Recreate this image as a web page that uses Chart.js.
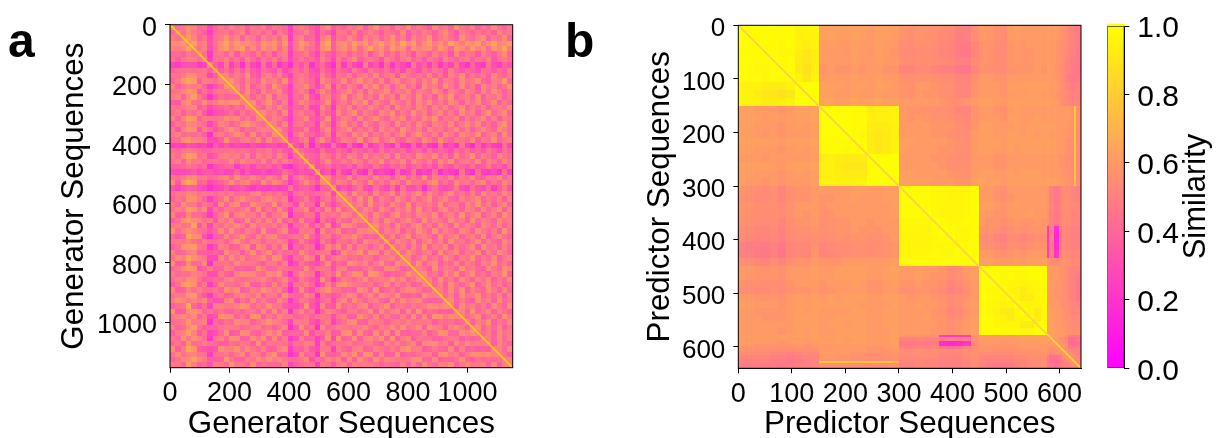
<!DOCTYPE html>
<html><head><meta charset="utf-8">
<script src="https://cdn.jsdelivr.net/npm/chart.js@4"></script>
<style>html,body{margin:0;padding:0;background:#fff;width:1217px;height:438px;overflow:hidden}canvas{position:absolute;top:0}</style>
</head><body>
<canvas id="a" style="left:0px" width="535" height="438"></canvas>
<canvas id="b" style="left:535px" width="555" height="438"></canvas>
<canvas id="c" style="left:1090px" width="127" height="438"></canvas>
<script>
const generatorEdges=[0,18,36,54,72,90,108,126,144,162,180,198,216,234,252,270,288,306,324,342,360,378,396,414,432,450,468,486,504,522,540,558,576,594,612,630,648,666,684,702,720,738,756,774,792,810,828,846,864,882,900,918,936,954,972,990,1008,1026,1044,1062,1080,1098,1116,1134,1152];
const generatorTicks=[0,200,400,600,800,1000];
const generatorDiagonal=[0,1152];
// upper triangle of the symmetric similarity matrix, in percent
const generatorUpper=[
[50,42,48,54,50,40,44,28,38,46,40,52,44,48,36,46,42,50,36,46,44,40,24,44,48,44,36,30,46,54,34,42,38,48,44,52,36,46,58,42,46,36,50,44,56,40,48,42,34,52,44,48,38,58,46,42,50,36,46,40,54,44,38,48],
[50,44,56,48,42,36,24,42,44,48,38,46,52,34,44,48,38,46,32,50,42,26,40,42,50,38,28,44,36,26,48,46,38,52,36,44,50,42,34,48,44,38,54,34,46,40,50,44,36,48,56,42,34,50,44,38,48,40,46,36,54,44,46],
[50,60,52,38,46,30,44,48,58,44,52,38,50,46,36,52,44,50,40,56,24,46,52,38,40,28,48,58,32,46,42,54,46,36,56,44,50,38,46,58,40,50,36,54,44,48,60,38,46,52,44,36,56,46,42,50,58,38,48,44,54,38],
[50,62,46,52,32,44,56,64,50,60,54,58,50,46,62,54,58,44,60,30,48,62,54,46,30,56,66,36,54,58,48,62,54,60,46,56,66,50,58,48,66,54,60,44,56,62,50,58,46,66,56,48,60,54,62,46,58,66,50,56,60],
[50,44,50,30,42,54,60,48,56,62,44,54,42,58,50,56,40,52,28,46,58,46,42,34,54,60,36,50,56,46,58,42,54,64,50,56,44,60,52,56,40,58,50,54,56,44,60,52,40,58,54,46,60,50,56,42,58,52,64,48],
[50,42,22,44,46,38,50,34,46,42,36,50,38,46,32,44,50,24,42,42,48,36,26,46,38,30,44,48,36,46,42,50,34,44,54,38,46,36,50,42,32,48,44,36,50,42,46,32,54,38,46,44,34,50,42,36,46,54,38],
[50,26,46,44,50,38,46,36,54,42,34,48,42,52,36,46,28,38,46,38,42,32,50,42,26,48,38,46,54,36,44,48,42,32,50,44,36,46,54,38,44,34,48,42,34,54,44,38,46,50,36,46,42,50,34,44,48,42],
[50,36,26,48,24,38,20,44,28,22,46,26,42,20,30,18,40,30,44,20,34,42,28,18,46,24,40,28,22,50,26,34,20,44,22,36,28,20,48,30,38,24,42,22,36,26,46,28,20,40,26,22,44,30,24,38,32],
[50,36,44,32,46,34,48,36,30,44,38,32,46,28,36,42,36,46,30,28,44,34,26,42,36,30,46,38,32,48,40,36,44,32,40,28,46,38,30,44,36,46,40,30,50,38,32,44,38,30,46,40,34,44,36,50],
[50,52,40,48,44,56,38,32,46,52,40,50,36,26,42,48,42,34,30,50,38,28,46,42,54,36,46,50,40,56,38,46,50,34,54,44,38,48,40,54,38,46,32,50,44,58,36,46,40,50,36,56,44,38,48],
[50,58,46,38,52,44,36,56,46,50,40,58,32,44,50,44,38,26,54,46,36,42,56,38,48,58,44,50,40,54,36,48,56,40,46,52,38,50,44,58,36,50,46,38,54,44,48,56,40,36,50,46,60,40],
[50,50,40,56,36,44,50,38,58,46,40,24,46,46,54,40,28,42,56,26,48,38,50,44,34,54,46,58,40,50,36,46,56,40,48,34,54,44,50,38,58,46,36,54,40,48,34,56,44,50,38,46,58],
[50,40,58,44,34,54,44,48,56,38,28,42,50,42,24,40,58,44,30,40,48,56,40,50,36,54,44,46,58,38,48,44,54,36,50,46,40,56,48,34,50,44,38,54,46,36,54,40,58,48,38,46],
[50,50,38,48,40,56,36,50,46,26,44,40,54,32,24,46,50,34,44,56,36,46,54,40,48,38,58,44,50,34,54,46,38,56,40,48,36,54,44,58,38,46,50,40,56,36,48,44,54,38,46],
[50,54,38,48,58,44,36,50,24,42,54,46,38,34,44,56,28,42,48,38,54,46,58,36,50,44,38,56,46,40,50,36,54,44,58,40,48,38,54,46,36,50,44,54,38,46,56,36,48,40],
[50,44,38,50,40,56,44,30,38,36,48,28,26,54,42,22,50,44,56,36,48,40,54,46,38,50,34,58,44,48,38,54,46,36,50,44,56,40,46,58,38,48,40,54,36,46,50,44,56],
[50,54,44,48,38,56,26,44,50,40,40,26,48,38,28,54,40,48,58,38,50,44,36,54,46,56,38,48,40,58,44,50,36,46,54,40,48,38,56,44,50,36,46,58,40,48,54,38],
[50,40,50,46,36,24,42,44,54,36,30,40,56,26,40,50,46,36,54,40,48,58,44,38,50,46,56,36,48,40,54,46,58,38,48,44,54,36,50,40,46,56,38,50,36,48,44],
[50,48,38,54,28,46,48,38,40,24,52,44,24,46,56,40,48,36,54,44,38,50,46,36,56,40,48,38,54,44,36,50,46,40,56,38,48,58,44,54,38,46,36,50,58,40],
[50,56,40,30,36,38,50,32,28,46,54,28,42,48,58,38,46,40,50,36,54,44,48,38,58,46,40,50,36,54,44,48,38,46,56,40,50,36,46,54,44,38,58,48,40],
[50,44,24,44,54,40,38,30,38,50,24,48,44,36,54,46,56,38,48,40,50,38,46,54,36,48,58,44,40,50,36,56,46,38,54,48,44,58,38,46,50,36,56,40],
[50,28,34,44,50,24,44,56,40,26,38,50,46,40,58,36,48,54,38,46,56,40,36,50,44,38,54,48,38,58,44,36,50,46,40,54,36,48,44,56,38,46,50],
[50,30,24,44,18,36,26,22,46,26,20,40,24,18,46,22,30,42,26,20,44,24,20,40,22,36,24,18,42,22,30,20,46,26,18,40,22,34,24,20,44,26],
[50,40,36,32,28,44,34,30,42,36,28,44,38,34,40,30,46,34,40,36,44,30,38,42,32,46,34,40,36,30,44,38,48,34,40,32,46,38,30,44,36],
[50,40,38,34,50,44,36,48,38,54,46,36,56,40,48,44,50,36,58,40,46,38,54,48,44,56,38,48,36,54,40,46,58,38,50,44,36,54,46,40],
[50,36,30,44,54,38,40,48,40,56,46,36,50,44,58,38,48,44,54,36,56,46,40,50,36,54,44,58,38,46,48,40,56,36,50,46,38,54,44],
[50,30,36,42,32,38,34,40,30,44,36,32,46,38,30,40,36,46,32,38,44,34,40,30,46,36,32,44,38,34,44,32,38,48,34,40,30,44],
[50,28,34,18,44,26,20,44,24,18,46,22,28,24,18,44,22,28,46,20,26,22,44,18,28,24,20,46,26,18,44,24,22,28,20,46,24],
[50,54,36,44,40,56,36,48,46,38,54,44,50,34,46,56,38,48,40,58,36,50,46,40,54,38,48,44,56,40,36,50,46,58,38,48],
[50,38,50,46,38,54,44,36,58,40,48,38,54,48,36,56,44,46,40,50,58,38,46,36,54,44,48,40,50,56,36,46,38,54,44],
[50,26,34,28,36,46,30,26,44,34,28,42,24,46,32,30,38,20,36,44,32,28,34,48,30,26,44,34,28,42,24,36,46,32],
[50,50,38,58,44,48,36,54,40,46,56,36,50,40,48,58,38,54,44,36,48,56,40,46,38,50,36,58,44,48,40,54,46],
[50,48,38,54,40,58,36,50,44,38,56,46,36,50,40,48,58,38,46,54,40,36,50,44,48,56,38,46,40,54,36,50],
[50,44,50,36,56,40,48,38,54,46,40,58,36,48,44,50,40,56,38,46,48,36,54,44,58,40,50,36,46,54,38],
[50,40,54,46,38,56,48,36,50,44,54,38,58,40,46,36,50,56,40,48,38,54,46,38,56,40,48,58,36,50],
[50,48,38,54,44,36,50,58,40,46,38,54,48,44,56,36,46,50,40,58,38,48,54,36,44,50,38,56,46],
[50,40,50,36,56,46,38,48,54,44,36,58,40,50,46,38,54,44,48,36,56,40,50,46,38,58,44,48],
[50,54,40,48,36,56,44,38,50,58,40,48,38,54,46,36,56,40,50,44,36,54,48,40,56,38,46],
[50,38,50,44,54,36,48,40,56,46,38,58,40,50,44,36,54,48,38,56,46,40,50,36,58,44],
[50,40,54,36,48,58,38,46,50,44,36,56,40,48,54,38,46,50,40,58,36,46,54,44,38],
[50,38,54,46,40,56,36,48,54,40,50,36,58,44,48,38,46,56,38,50,40,36,54,44],
[50,44,50,36,54,40,58,38,48,44,56,36,50,40,46,54,36,58,44,48,38,50,40],
[50,40,56,48,38,46,50,36,58,40,46,54,38,48,44,56,36,50,40,58,46,38],
[50,50,36,44,54,40,48,38,56,46,36,50,44,58,38,48,40,54,36,46,50],
[50,40,58,38,48,54,36,46,40,56,38,50,44,36,54,46,58,40,48,38],
[50,48,44,36,56,40,50,46,38,58,44,48,40,36,54,46,38,56,50],
[50,54,40,46,36,54,44,58,38,48,56,40,46,36,50,44,58,38],
[50,50,38,58,40,48,36,54,46,38,50,44,56,36,48,40,54],
[50,40,50,36,56,44,38,48,58,36,46,54,40,50,38,44],
[50,48,38,54,40,58,36,50,44,38,56,46,36,54,40],
[50,40,50,36,56,44,48,58,38,46,40,54,36,50],
[50,54,38,48,40,36,56,44,50,38,58,40,48],
[50,36,56,44,50,40,48,36,54,46,38,56],
[50,50,38,58,40,46,54,36,50,44,38],
[50,40,48,56,36,44,50,38,58,46],
[50,38,50,44,58,36,48,40,54],
[50,56,38,48,40,54,36,46],
[50,40,50,36,56,44,48],
[50,48,38,54,40,50],
[50,36,56,44,38],
[50,50,40,54],
[50,44,36],
[50,50],
[50]];

const predictorEdges=[0,15,30,45,60,75,90,105,120,135,150,165,180,195,210,225,240,255,270,285,300,315,330,345,360,375,390,405,420,435,450,463,476,489,502,515,527,540,552,565,577,581,589,594,599,604,610,616,622,627,630,640];
const predictorTicks=[0,100,200,300,400,500,600];
const predictorDiagonal=[0,640];
const predictorUpper=[
[100,99,99,98,99,98,98,95,96,96,62,63,62,62,63,62,60,63,62,62,58,56,58,57,57,55,54,50,50,56,60,60,57,55,60,62,60,60,60,60,62,60,62,60,58,57,55,52,50,50,48],
[100,99,98,99,98,98,94,95,95,62,63,62,61,63,62,60,62,62,60,57,56,58,57,56,54,53,49,50,55,60,59,56,55,60,61,60,60,60,60,62,60,61,60,58,57,55,52,50,50,48],
[100,99,98,97,98,95,93,95,60,62,60,60,62,60,60,62,60,60,55,54,56,56,55,53,52,48,48,53,58,58,56,54,58,60,58,60,60,60,62,60,60,58,57,56,54,52,50,50,48],
[100,98,97,97,93,90,93,60,60,60,59,62,60,59,62,60,58,54,54,55,55,54,52,51,48,47,52,57,58,55,54,58,60,58,58,60,60,62,60,60,58,57,55,54,52,50,50,47],
[100,98,98,92,90,93,60,61,60,60,61,60,60,61,60,60,56,55,56,56,55,54,53,50,50,55,58,58,56,56,59,60,58,59,60,60,62,60,60,58,57,55,52,50,48,48,47],
[100,98,92,88,94,58,60,58,58,60,58,60,60,58,58,52,52,54,54,52,50,50,47,46,52,57,56,55,54,57,58,58,58,60,58,62,60,58,58,56,54,52,50,48,48,46],
[100,95,90,95,60,61,60,60,62,60,60,62,60,60,56,56,57,57,56,55,54,52,52,56,60,60,58,57,60,60,60,60,60,60,62,60,60,58,57,54,50,48,47,47,48],
[100,100,100,63,62,62,60,62,62,60,63,62,60,58,57,60,60,58,56,56,53,53,58,60,60,60,58,62,61,62,62,62,62,63,60,62,60,58,55,52,50,48,48,50],
[100,100,62,62,60,60,62,60,60,62,60,60,58,57,60,58,58,56,55,53,52,57,60,60,60,58,60,61,60,62,62,60,62,60,60,58,57,55,54,52,50,50,50],
[100,64,64,62,62,64,62,62,64,62,62,60,60,60,60,60,58,56,56,58,60,62,62,60,60,62,62,62,62,62,62,64,62,60,60,58,55,53,52,50,52,52],
[100,100,99,99,98,98,93,94,94,95,60,58,58,57,56,56,55,52,52,58,60,60,58,57,60,62,60,60,60,60,62,60,62,60,60,60,60,60,58,78,56],
[100,99,99,98,98,94,94,94,95,60,58,60,58,57,57,56,54,53,58,60,60,60,58,62,62,60,60,62,60,62,60,62,60,60,60,60,60,58,78,56],
[100,99,98,98,93,92,93,94,60,60,60,60,58,58,58,55,54,58,62,62,60,60,60,62,60,62,62,62,62,62,62,60,60,60,60,58,58,78,56],
[100,98,97,92,90,92,94,60,60,60,60,58,58,56,55,55,60,62,62,60,60,62,62,60,62,60,62,62,60,62,60,60,60,60,58,58,78,56],
[100,98,92,90,92,94,62,62,60,60,60,60,58,56,56,60,62,62,62,60,62,62,62,62,62,62,64,62,62,60,60,60,58,56,56,78,55],
[100,93,90,92,95,62,60,60,60,60,58,58,56,56,60,62,62,60,60,62,60,62,62,62,62,64,62,62,60,60,60,58,56,56,78,55],
[100,99,99,99,60,60,60,60,58,58,56,55,55,60,60,60,58,58,60,60,60,60,60,60,62,60,60,60,58,58,56,56,54,78,54],
[100,99,99,60,60,60,60,60,58,56,56,56,60,60,60,58,58,60,60,60,60,60,60,62,60,60,60,58,58,56,56,54,78,54],
[100,100,62,62,60,60,60,60,58,57,57,60,62,62,60,60,62,60,62,62,62,60,62,60,60,60,60,58,58,56,56,78,55],
[100,62,62,62,62,60,60,60,58,58,62,64,62,62,60,62,62,62,62,62,62,64,62,62,62,60,60,58,58,56,72,56],
[100,99,98,98,97,97,96,96,97,98,60,60,58,56,60,60,60,60,60,60,58,50,47,47,50,56,55,54,52,52,50],
[100,98,98,97,97,96,96,97,98,60,60,58,56,58,60,60,60,60,60,58,50,47,47,50,55,55,54,52,52,50],
[100,98,97,96,96,96,97,98,62,62,60,58,60,62,60,60,60,60,58,52,48,48,52,56,55,55,54,54,52],
[100,97,96,96,96,97,98,60,60,58,58,60,60,60,62,60,60,56,50,47,47,50,55,55,55,52,52,52],
[100,98,97,97,98,98,60,58,58,56,58,60,58,58,60,58,56,50,48,48,52,56,54,54,52,52,52],
[100,98,97,97,98,58,58,56,54,56,58,56,58,58,58,24,48,18,18,46,55,52,52,50,50,50],
[100,97,97,98,54,55,52,50,54,54,52,54,56,56,22,50,14,16,44,54,52,52,50,50,50],
[100,98,98,56,56,54,52,56,56,54,56,58,58,24,48,16,18,46,55,52,52,50,50,50],
[100,98,60,60,58,56,58,60,58,60,60,60,24,50,20,22,50,56,54,54,52,52,52],
[100,62,62,60,60,60,62,60,62,62,62,58,56,54,54,56,58,56,56,54,54,54],
[100,99,98,98,99,98,98,99,99,99,62,60,60,60,58,58,55,53,52,52,50],
[100,98,97,98,97,97,98,98,99,62,60,60,60,58,58,55,52,50,50,48],
[100,97,97,96,95,96,97,98,60,60,60,58,58,56,54,52,50,50,47],
[100,96,94,92,95,96,97,60,60,58,58,58,56,54,52,50,50,46],
[100,96,92,92,96,98,60,60,60,58,58,56,55,52,50,50,47],
[100,97,96,96,98,62,60,60,60,58,56,56,54,52,52,50],
[100,96,92,97,62,62,60,60,60,58,56,54,52,52,52],
[100,92,96,62,62,60,60,60,58,56,56,54,54,54],
[100,98,62,62,60,60,60,58,58,56,54,54,54],
[100,62,62,62,60,60,60,58,56,56,56,56],
[62,62,60,60,60,58,56,50,46,48,48],
[60,60,60,56,54,52,44,42,42,46],
[58,58,58,56,54,44,42,42,44],
[58,58,58,56,44,42,42,44],
[58,58,54,48,48,46,48],
[58,58,54,52,50,50],
[58,58,54,52,50],
[58,58,54,52],
[58,56,54],
[56,54],
[54]];

const colorbarTicks=[0,0.2,0.4,0.6,0.8,1];
const colorbarRange=[0,1];
const colorbarCap=[1,1.006];
const FONT='"Liberation Sans", Arial, sans-serif';

function spring(v){return `rgb(255,${Math.round(255*v)},${Math.round(255*(1-v))})`;}

function cells(upper,edges){
  const out=[];
  upper.forEach((row,i)=>row.forEach((p,k)=>{
    const j=i+k;
    const add=(c,r)=>out.push({x:(edges[c]+edges[c+1])/2,y:(edges[r]+edges[r+1])/2,x0:edges[c],x1:edges[c+1],y0:edges[r],y1:edges[r+1],v:p/100});
    add(j,i); if(j!==i) add(i,j);
  }));
  return out;
}

class HeatmapController extends Chart.ScatterController{
  draw(){
    const meta=this.getMeta(),ctx=this.chart.ctx,xs=meta.xScale,ys=meta.yScale;
    ctx.save();
    this.getDataset().data.forEach(c=>{
      const l=Math.round(xs.getPixelForValue(c.x0)),r=Math.round(xs.getPixelForValue(c.x1));
      const t=Math.round(ys.getPixelForValue(c.y0)),b=Math.round(ys.getPixelForValue(c.y1));
      ctx.fillStyle=spring(c.v);
      ctx.fillRect(l,t,r-l,b-t);
    });
    ctx.restore();
  }
}
HeatmapController.id='heatmap';
HeatmapController.defaults=Chart.ScatterController.defaults;
Chart.register(HeatmapController);
Chart.defaults.animation=false;
Chart.defaults.font.family=FONT;
Chart.defaults.color='#000';

const frame={id:'frame',afterDatasetsDraw(ch){
  const a=ch.chartArea,c=ch.ctx;c.save();c.strokeStyle='#000';c.lineWidth=1;
  c.strokeRect(a.left,a.top,a.right-a.left,a.bottom-a.top);c.restore();}};
const panelLetter=(txt,x,y)=>({id:'panel',afterDraw(ch){
  const c=ch.ctx;c.save();c.font=`bold 48px ${FONT}`;c.fillStyle='#000';c.textBaseline='alphabetic';c.fillText(txt,x,y);c.restore();}});

function heatChart(id,opts){
  const {edges,upper,diag,ticks,max,title,yBox,xBox,letter,pad,tickX,tickY,step,titleX,titleY,diagColor}=opts;
  const axis=(text,font,tfont,tvals)=>({type:'linear',min:0,max,
    border:{display:true,color:'#000',width:1},
    grid:{drawOnChartArea:false,drawTicks:true,tickLength:5,tickColor:'#000'},
    title:{display:true,text,font:{size:tfont},color:'#000',padding:{top:0,bottom:0}},
    ticks:{stepSize:step,includeBounds:false,autoSkip:false,maxRotation:0,font:{size:font},color:'#000',padding:5,
      callback:v=>tvals.includes(v)?String(v):''}});
  const x=axis(title,tickX,titleX,ticks),y=axis(title,tickY,titleY,ticks);
  x.title.padding={top:0,bottom:-5};
  y.reverse=true;
  y.ticks.padding=8;
  y.ticks.labelOffset=3.5;
  x.afterFit=s=>{s.height=xBox;};
  y.afterFit=s=>{s.width=yBox;};
  return new Chart(document.getElementById(id),{
    type:'heatmap',
    data:{datasets:[
      {type:'line',label:'diagonal',data:diag.map(v=>({x:v,y:v})),borderColor:diagColor,borderWidth:1.7,pointRadius:0,order:0},
      {type:'heatmap',label:'similarity',data:cells(upper,edges),pointRadius:0,order:1}
    ]},
    options:{responsive:false,animation:false,layout:{padding:pad},
      plugins:{legend:{display:false},tooltip:{enabled:false}},scales:{x,y}},
    plugins:[frame,panelLetter(...letter)]
  });
}

heatChart('a',{edges:generatorEdges,upper:generatorUpper,diag:generatorDiagonal,ticks:generatorTicks,max:1152,step:200,
  title:'Generator Sequences',yBox:114,xBox:70.3,letter:['a',8,57],pad:{left:56,top:24.7,right:22.3,bottom:0},tickX:27,tickY:27,titleX:31.4,titleY:31.4,diagColor:'#ffc81e'});
heatChart('b',{edges:predictorEdges,upper:predictorUpper,diag:predictorDiagonal,ticks:predictorTicks,max:640,step:100,
  title:'Predictor Sequences',yBox:97,xBox:69.7,letter:['b',30,57],pad:{left:106.3,top:25.3,right:9,bottom:0},tickX:27,tickY:26,titleX:31.4,titleY:31.4,diagColor:'#ffd040'});

const barGradient=ctx=>{
  const a=ctx.chart.chartArea; if(!a) return '#ff8080';
  const g=ctx.chart.ctx.createLinearGradient(0,a.bottom,0,a.top);
  g.addColorStop(0,spring(0));g.addColorStop(1,spring(1));return g;};
new Chart(document.getElementById('c'),{
  type:'bar',
  data:{labels:['Similarity'],datasets:[
    {label:'Similarity',data:[colorbarRange],backgroundColor:barGradient,borderColor:'#333',borderWidth:1,borderSkipped:false,categoryPercentage:1,barPercentage:1},
    {label:'cap',data:[colorbarCap],backgroundColor:'#ffff00',borderWidth:0,clip:false,categoryPercentage:1,barPercentage:1}]},
  options:{responsive:false,animation:false,layout:{padding:{left:17.3,top:25.3,bottom:69.7,right:0}},
    plugins:{legend:{display:false},tooltip:{enabled:false}},
    scales:{x:{display:false,stacked:false},
      y:{position:'right',min:0,max:1,border:{display:true,color:'#000'},
        grid:{drawOnChartArea:false,tickLength:5,tickColor:'#000'},
        afterFit:s=>{s.width=92.7;},
        ticks:{stepSize:0.2,autoSkip:false,font:{size:30},padding:8,labelOffset:3,color:'#000',callback:v=>v.toFixed(1)}}},
    datasets:{bar:{grouped:false}}},
  plugins:[{id:'cbTitle',afterDraw(ch){
    const c=ch.ctx;c.save();c.translate(106,ch.chartArea.top+170.5);c.rotate(-Math.PI/2);
    c.font=`31px ${FONT}`;c.textAlign='center';c.textBaseline='middle';c.fillStyle='#000';c.fillText('Similarity',0,0);c.restore();}}]
});
</script>
</body></html>
